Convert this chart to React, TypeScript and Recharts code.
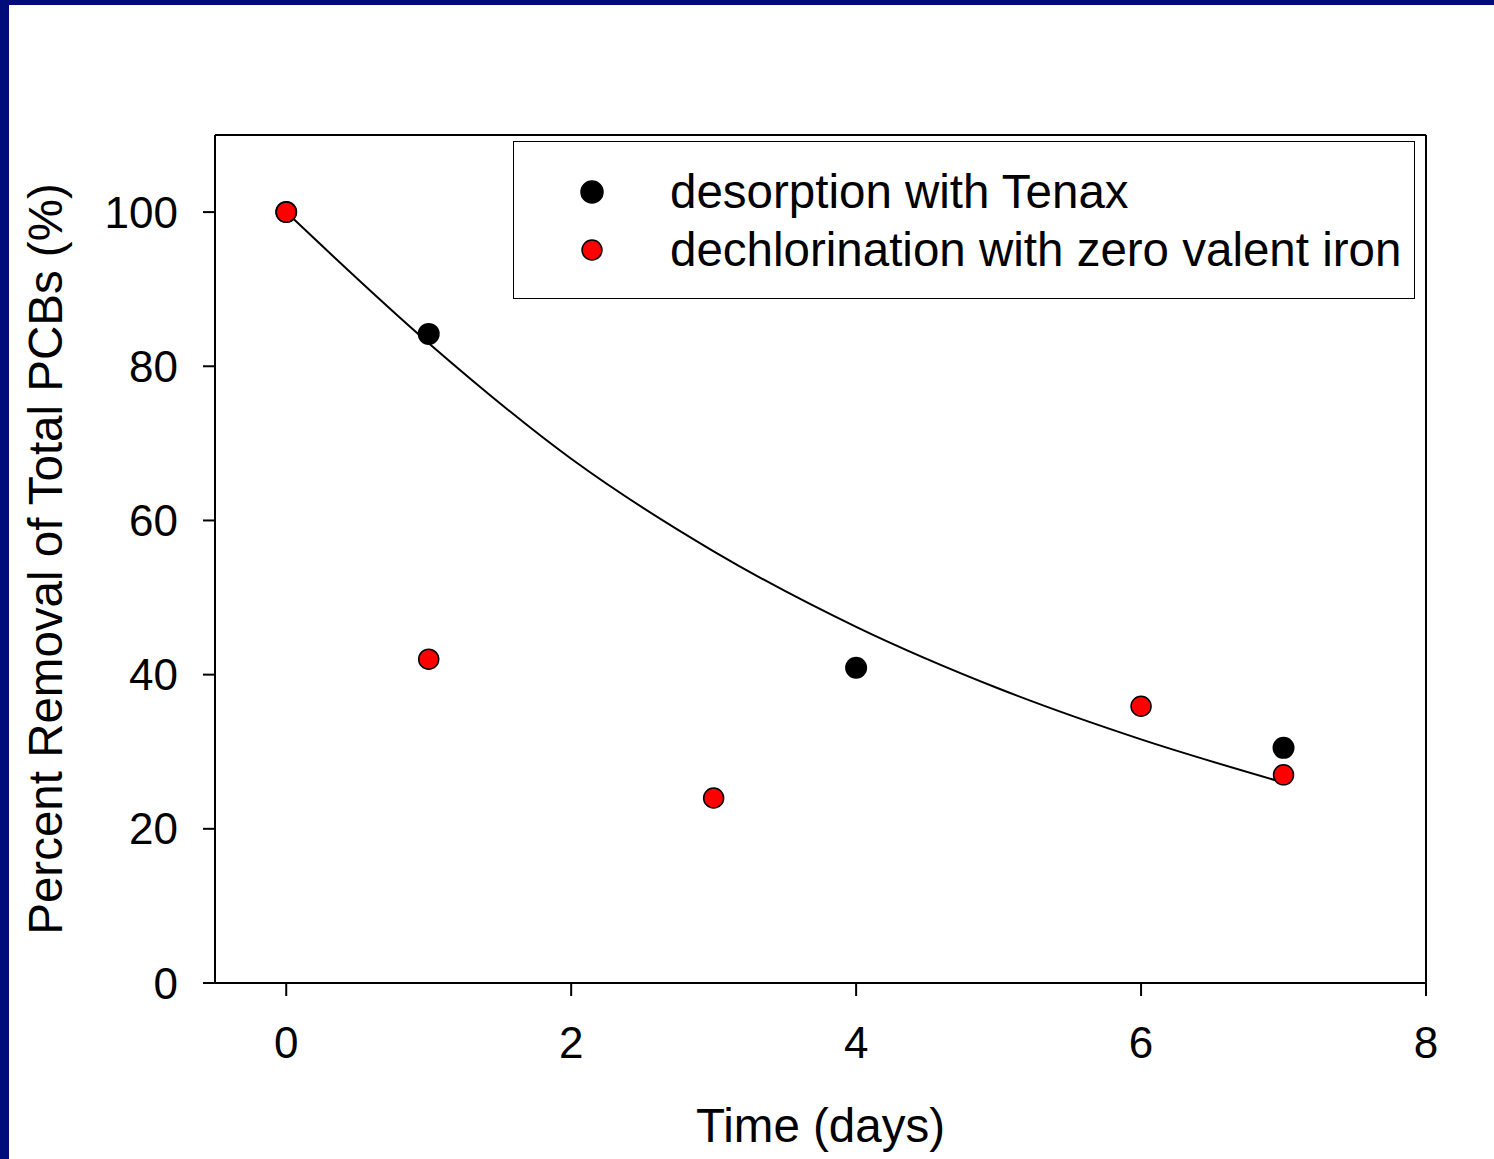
import React from 'react';
import { ComposedChart, Scatter, Line, XAxis, YAxis, ReferenceLine, Label } from 'recharts';

type Pt = { t: number, v: number }

// desorption with Tenax (black)
const tenaxDays = [0, 1, 4, 7]
const tenaxValues = [100, 84.2, 40.9, 30.5]

// dechlorination with zero valent iron (red)
const zviDays = [0, 1, 3, 6, 7]
const zviValues = [100, 42, 24, 35.9, 27]

// fitted curve
const fitDays = [0, 1, 2, 3, 4, 5, 6, 7]
const fitValues = [100, 83, 68, 56, 46.2, 38.2, 31.6, 26]

const xTicks = [0, 2, 4, 6, 8]
const yTicks = [0, 20, 40, 60, 80, 100]

const seriesNames = ['desorption with Tenax', 'dechlorination with zero valent iron']
const seriesColors = ['#000000', '#ff0000']

const toPts = (xs: number[], ys: number[]): Pt[] => xs.map((t, i) => ({ t, v: ys[i] }))

const tenax = toPts(tenaxDays, tenaxValues)
const zvi = toPts(zviDays, zviValues)
const fit = toPts(fitDays, fitValues)

const FONT = '"Liberation Sans", Arial, sans-serif'
const NAVY = '#000c7a'
const BIG = 47.5

const LegendBox = () => (
  <div style={{
    position: 'absolute', left: 513, top: 141, width: 902, height: 158, boxSizing: 'border-box',
    border: '1.5px solid #000', background: '#fff', fontFamily: FONT
  }}>
    {seriesNames.map((name, i) => (
      <div key={name} style={{ position: 'absolute', left: 0, top: 50 - 28 + i * 58, height: 56, width: '100%' }}>
        <svg width={30} height={30} style={{ position: 'absolute', left: 63, top: 13 }}>
          <circle cx={15} cy={15} r={i === 0 ? 11 : 10}
            fill={seriesColors[i]} stroke="#000" strokeWidth={1.5} />
        </svg>
        <span style={{ position: 'absolute', left: 156, top: 0, fontSize: BIG, lineHeight: '56px', color: '#000', whiteSpace: 'nowrap' }}>
          {name}
        </span>
      </div>
    ))}
  </div>
)

function App() {
  return (
    <div style={{ position: 'absolute', left: 0, top: 0, width: 1494, height: 1159, background: '#fff' }}>
      <div style={{ position: 'absolute', left: 0, top: 0, width: 1494, height: 5, background: NAVY }} />
      <div style={{ position: 'absolute', left: 0, top: 0, width: 9, height: 1159, background: NAVY }} />
      <ComposedChart
        width={1494}
        height={1159}
        margin={{ top: 135, right: 68, bottom: 0, left: 0 }}
        style={{ fontFamily: FONT }}
      >
        <XAxis
          dataKey="t"
          type="number"
          domain={[-0.5, 8]}
          ticks={xTicks}
          allowDataOverflow
          height={176}
          tickSize={13}
          tickMargin={31}
          stroke="#000"
          strokeWidth={2}
          tick={{ fill: '#000', fontSize: 44 }}
        >
          <Label value="Time (days)" position="insideBottom" offset={17}
            style={{ fill: '#000', fontSize: BIG, textAnchor: 'middle' }} />
        </XAxis>
        <YAxis
          dataKey="v"
          type="number"
          domain={[0, 110]}
          ticks={yTicks}
          allowDataOverflow
          width={215}
          tickSize={12}
          tickMargin={25}
          stroke="#000"
          strokeWidth={2}
          tick={{ fill: '#000', fontSize: 44 }}
        >
          <Label value="Percent Removal of Total PCBs (%)" angle={-90} position="insideLeft" offset={45}
            style={{ fill: '#000', fontSize: BIG, textAnchor: 'middle' }} />
        </YAxis>
        <ReferenceLine y={110} stroke="#000" strokeWidth={2} />
        <ReferenceLine x={8} stroke="#000" strokeWidth={2} />
        <Line
          data={fit}
          dataKey="v"
          type="monotone"
          stroke="#000"
          strokeWidth={2}
          dot={false}
          activeDot={false}
          isAnimationActive={false}
        />
        <Scatter
          name={seriesNames[0]}
          data={tenax}
          fill={seriesColors[0]}
          isAnimationActive={false}
          shape={(p: any) => <circle cx={p.cx} cy={p.cy} r={11} fill={seriesColors[0]} />}
        />
        <Scatter
          name={seriesNames[1]}
          data={zvi}
          fill={seriesColors[1]}
          isAnimationActive={false}
          shape={(p: any) => <circle cx={p.cx} cy={p.cy} r={10} fill={seriesColors[1]} stroke="#000" strokeWidth={1.5} />}
        />
      </ComposedChart>
      <LegendBox />
    </div>
  )
}

export default App;
